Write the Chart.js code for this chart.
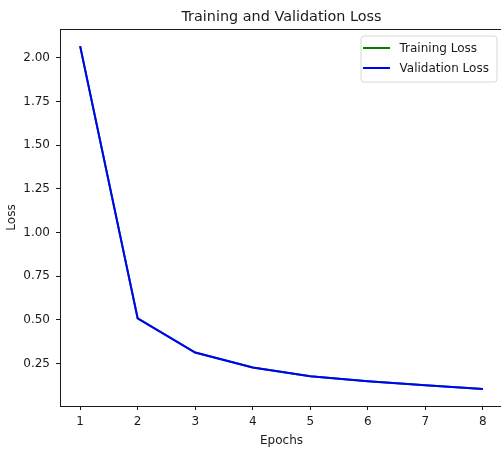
<!DOCTYPE html>
<html>
<head>
<meta charset="utf-8">
<script src="https://cdn.jsdelivr.net/npm/chart.js@4"></script>
<style>
html,body{margin:0;padding:0;background:#fff;overflow:hidden;width:501px;height:450px;}
#wrap{position:absolute;left:0;top:0;width:510px;height:450px;}
</style>
</head>
<body>
<div id="wrap"><canvas id="c" width="510" height="450"></canvas></div>
<script>
const epochs = [1, 2, 3, 4, 5, 6, 7, 8];
const trainingLoss = [2.068, 0.509, 0.313, 0.227, 0.178, 0.149, 0.126, 0.105];
const validationLoss = [2.068, 0.509, 0.313, 0.227, 0.178, 0.149, 0.126, 0.105];
const xTicks = [1, 2, 3, 4, 5, 6, 7, 8];
const yTicks = [0.25, 0.50, 0.75, 1.00, 1.25, 1.50, 1.75, 2.00];
const chartTitle = 'Training and Validation Loss';
const xLabel = 'Epochs';
const yLabel = 'Loss';

const FONT = 'DejaVu Sans';
const TXT = '#1a1a1a';

const framePlugin = {
  id: 'frame',
  afterDraw(chart) {
    const {ctx, chartArea: a} = chart;
    ctx.save();
    // spines
    ctx.strokeStyle = '#1a1a1a';
    ctx.lineWidth = 1;
    ctx.strokeRect(Math.round(a.left) + 0.5, Math.round(a.top) + 0.5, a.right - a.left, a.bottom - a.top);
    // title
    ctx.fillStyle = TXT;
    ctx.font = '14.4px "' + FONT + '"';
    ctx.textAlign = 'center';
    ctx.textBaseline = 'alphabetic';
    ctx.fillText(chartTitle, (a.left + a.right) / 2, 21);
    // legend
    const lx = 361, ly = 36, lw = 136, lh = 46, r = 3;
    ctx.beginPath();
    ctx.moveTo(lx + r, ly);
    ctx.lineTo(lx + lw - r, ly);
    ctx.arcTo(lx + lw, ly, lx + lw, ly + r, r);
    ctx.lineTo(lx + lw, ly + lh - r);
    ctx.arcTo(lx + lw, ly + lh, lx + lw - r, ly + lh, r);
    ctx.lineTo(lx + r, ly + lh);
    ctx.arcTo(lx, ly + lh, lx, ly + lh - r, r);
    ctx.lineTo(lx, ly + r);
    ctx.arcTo(lx, ly, lx + r, ly, r);
    ctx.closePath();
    ctx.fillStyle = 'rgba(255,255,255,0.8)';
    ctx.fill();
    ctx.strokeStyle = '#d6d6d6';
    ctx.lineWidth = 1;
    ctx.stroke();
    ctx.font = '12px "' + FONT + '"';
    ctx.textAlign = 'left';
    ctx.textBaseline = 'middle';
    chart.data.datasets.forEach((ds, i) => {
      const y = 48 + i * 20;
      ctx.strokeStyle = ds.borderColor;
      ctx.lineWidth = 2;
      ctx.beginPath();
      ctx.moveTo(363, y);
      ctx.lineTo(390, y);
      ctx.stroke();
      ctx.fillStyle = TXT;
      ctx.fillText(ds.label, 399.5, y + 0.5);
    });
    ctx.restore();
  }
};

new Chart(document.getElementById('c'), {
  type: 'line',
  data: {
    datasets: [
      {
        label: 'Training Loss',
        data: epochs.map((e, i) => ({x: e, y: trainingLoss[i]})),
        borderColor: '#008000',
        backgroundColor: '#008000',
        borderWidth: 2,
        pointRadius: 0,
        tension: 0,
        fill: false,
        order: 2
      },
      {
        label: 'Validation Loss',
        data: epochs.map((e, i) => ({x: e, y: validationLoss[i]})),
        borderColor: '#0000ff',
        backgroundColor: '#0000ff',
        borderWidth: 2,
        pointRadius: 0,
        tension: 0,
        fill: false,
        order: 1
      }
    ]
  },
  options: {
    responsive: false,
    animation: false,
    devicePixelRatio: 1,
    layout: {padding: {top: 29, right: 7, left: 0, bottom: 0}},
    plugins: {
      legend: {display: false},
      title: {display: false},
      tooltip: {enabled: false}
    },
    scales: {
      x: {
        type: 'linear',
        min: 0.65,
        max: 8.35,
        afterFit(s) { s.height = 44; },
        afterBuildTicks(s) { s.ticks = xTicks.map(v => ({value: v})); },
        grid: {display: true, drawOnChartArea: false, drawTicks: true, tickLength: 4, color: '#1a1a1a', lineWidth: 1},
        border: {display: false},
        ticks: {
          color: TXT,
          font: {family: FONT, size: 12},
          padding: 5,
          maxRotation: 0,
          autoSkip: false,
          callback: v => String(v)
        },
        title: {display: true, text: xLabel, color: TXT, font: {family: FONT, size: 12}, padding: {top: 0, bottom: 2}}
      },
      y: {
        type: 'linear',
        min: 0.007,
        max: 2.166,
        afterFit(s) { s.width = 60; },
        afterBuildTicks(s) { s.ticks = yTicks.map(v => ({value: v})); },
        grid: {display: true, drawOnChartArea: false, drawTicks: true, tickLength: 4, color: '#1a1a1a', lineWidth: 1},
        border: {display: false},
        ticks: {
          color: TXT,
          font: {family: FONT, size: 12},
          padding: 6,
          autoSkip: false,
          callback: v => Number(v).toFixed(2)
        },
        title: {display: true, text: yLabel, color: TXT, font: {family: FONT, size: 12}, padding: {top: 5, bottom: 0}}
      }
    }
  },
  plugins: [framePlugin]
});
</script>
</body>
</html>
